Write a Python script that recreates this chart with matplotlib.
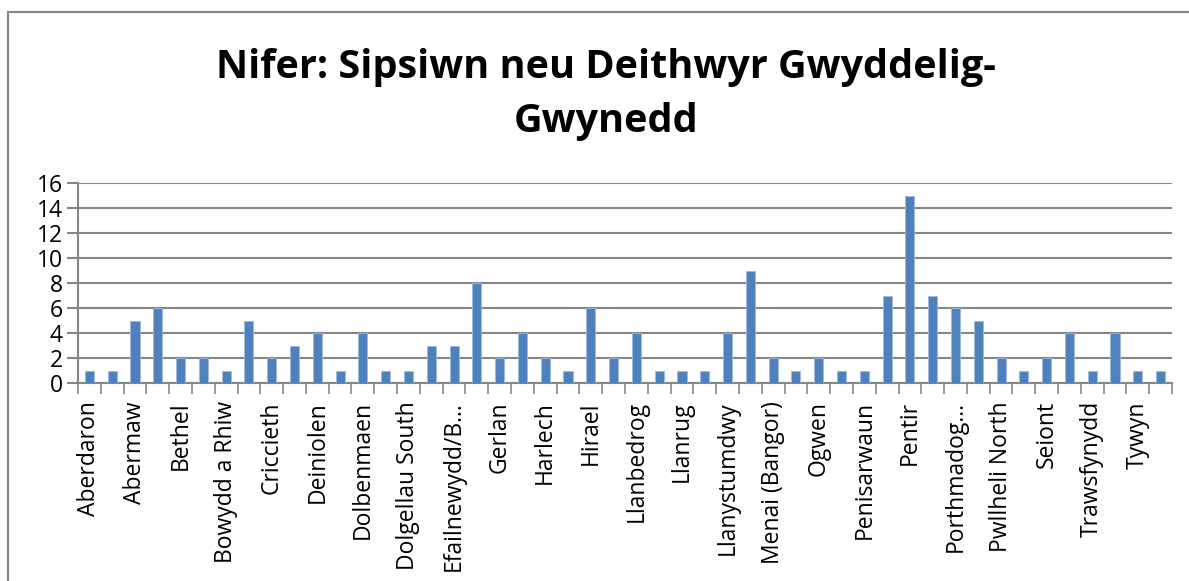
import matplotlib
matplotlib.use("Agg")
import matplotlib.pyplot as plt
from matplotlib.lines import Line2D
import numpy as np

# ward names (only every other one is labelled on the axis)
wards = [
    "Aberdaron", "Abererch", "Abermaw", "Abersoch", "Bethel", "Bontnewydd",
    "Bowydd a Rhiw", "Cadnant", "Criccieth", "Deiniol", "Deiniolen", "Dewi",
    "Dolbenmaen", "Dolgellau North", "Dolgellau South", "Dyffryn Ardudwy",
    "Efailnewydd/B\u2026", "Garth", "Gerlan", "Glyder", "Harlech", "Hendre",
    "Hirael", "Llanaelhaearn", "Llanbedrog", "Llanberis", "Llanrug", "Llanwnda",
    "Llanystumdwy", "Marchog", "Menai (Bangor)", "Menai (Caernarfon)", "Ogwen",
    "Peblig", "Penisarwaun", "Penrhyndeudraeth", "Pentir", "Penygroes",
    "Porthmadog\u2026", "Porthmadog West", "Pwllheli North", "Pwllheli South",
    "Seiont", "Talysarn", "Trawsfynydd", "Tregarth", "Tywyn", "Y Felinheli",
]
counts = [
    1, 1, 5, 6, 2, 2, 1, 5, 2, 3, 4, 1, 4, 1, 1, 3, 3, 8, 2, 4, 2, 1, 6, 2,
    4, 1, 1, 1, 4, 9, 2, 1, 2, 1, 1, 7, 15, 7, 6, 5, 2, 1, 2, 4, 1, 4, 1, 1,
]
yticks = [0, 2, 4, 6, 8, 10, 12, 14, 16]
title_lines = ["Nifer: Sipsiwn neu Deithwyr Gwyddelig-", "Gwynedd"]

plt.rcParams['font.family'] = ['Open Sans', 'DejaVu Sans']
grey = '#868686'
W, H = 1189, 581

fig = plt.figure(figsize=(W/100, H/100), dpi=100)
ax = fig.add_axes([78/W, 1 - 383/H, (1172 - 78)/W, 200/H])

x = np.arange(len(wards))
ax.bar(x, counts, width=0.4, color='#4F81BD', edgecolor='#9DB9DE', linewidth=0.6, zorder=3)

ax.set_xlim(-0.5, len(wards) - 0.5)
ax.set_ylim(0, 16)
ax.set_yticks(yticks)
ax.set_yticklabels([str(v) for v in yticks], fontsize=16.5)
ax.yaxis.grid(True, color=grey, linewidth=1.5, zorder=0)
ax.tick_params(axis='y', length=8, width=1.5, color=grey, pad=3)

# ticks sit between categories, labels only on every other bar
ax.set_xticks(np.arange(-0.5, len(wards)), minor=False)
ax.set_xticklabels([])
ax.tick_params(axis='x', which='major', length=8, width=1.2, color=grey)
ax.set_xticks(x[::2], minor=True)
ax.set_xticklabels(wards[::2], minor=True, rotation=90, fontsize=16.5)
ax.tick_params(axis='x', which='minor', length=0, pad=13)

for s in ['top', 'right']:
    ax.spines[s].set_visible(False)
for s in ['left', 'bottom']:
    ax.spines[s].set_color(grey)
    ax.spines[s].set_linewidth(1.5)

fig.text(606/W, 1 - 78/H, title_lines[0], ha='center', va='baseline',
         fontsize=28.5, fontweight='bold')
fig.text(606/W, 1 - 132/H, title_lines[1], ha='center', va='baseline',
         fontsize=28.5, fontweight='bold')

# chart frame (top and left edges visible)
fig.add_artist(Line2D([8/W, 1], [1 - 12/H, 1 - 12/H], color=grey, linewidth=1.5))
fig.add_artist(Line2D([8/W, 8/W], [0, 1 - 12/H], color=grey, linewidth=1.5))

fig.savefig('out.png', dpi=100)
